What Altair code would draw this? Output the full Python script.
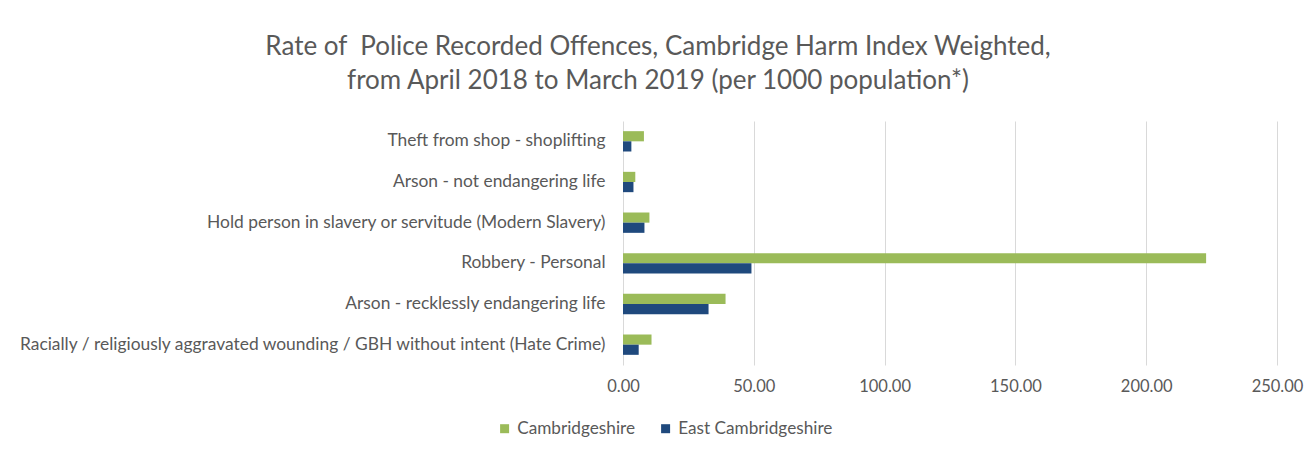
import altair as alt
import pandas as pd

categories = [
    "Theft from shop - shoplifting",
    "Arson - not endangering life",
    "Hold person in slavery or servitude (Modern Slavery)",
    "Robbery - Personal",
    "Arson - recklessly endangering life",
    "Racially / religiously aggravated wounding / GBH without intent (Hate Crime)",
]
series = ["Cambridgeshire", "East Cambridgeshire"]
cambs = [8.0, 4.7, 10.1, 222.9, 39.2, 10.9]
east = [3.2, 4.0, 8.2, 49.1, 32.7, 6.0]
colors = ["#9BBB59", "#1F497D"]

rows = []
for c, a, b in zip(categories, cambs, east):
    rows.append({"cat": c, "series": series[0], "value": a})
    rows.append({"cat": c, "series": series[1], "value": b})
df = pd.DataFrame(rows)

FONT = "Lato"
GREY = "#595959"

chart = alt.Chart(df).mark_bar().encode(
    y=alt.Y("cat:N", sort=categories, title=None,
            scale=alt.Scale(paddingInner=0.5, paddingOuter=0.25),
            axis=alt.Axis(labelLimit=0, labelFontSize=17.4, labelColor=GREY,
                          labelFont=FONT, ticks=False, domain=False,
                          labelPadding=18, grid=False)),
    yOffset=alt.YOffset("series:N", sort=series, scale=alt.Scale(paddingInner=0)),
    x=alt.X("value:Q", title=None,
            scale=alt.Scale(domain=[0, 250], nice=False),
            axis=alt.Axis(values=[0, 50, 100, 150, 200, 250], format=".2f",
                          labelFontSize=16.5, labelColor=GREY, labelFont=FONT,
                          ticks=False, domain=False, gridColor="#d9d9d9",
                          labelPadding=13, labelFlush=False)),
    color=alt.Color("series:N", sort=series,
                    scale=alt.Scale(domain=series, range=colors),
                    legend=alt.Legend(title=None, orient="none", direction="horizontal",
                                      legendX=-127, legendY=299,
                                      symbolType="square", symbolSize=81,
                                      labelFontSize=17.2, labelColor=GREY, labelFont=FONT,
                                      columnPadding=21, labelOffset=4, symbolOffset=0)),
).properties(
    width=654,
    height=244,
    title=alt.TitleParams(
        text=["Rate of \u00a0Police Recorded Offences, Cambridge Harm Index Weighted,",
              "from April 2018 to March 2019 (per 1000 population*)"],
        fontSize=26, font=FONT, fontWeight="normal", color=GREY,
        anchor="middle", dx=-292, offset=27, lineHeight=34,
    ),
    autosize=alt.AutoSizeParams(type="none"),
    padding={"left": 615, "top": 113, "right": 30, "bottom": 80},
).configure_view(stroke=None)

chart.save("out.html", embed_options={"renderer": "svg", "actions": False})
